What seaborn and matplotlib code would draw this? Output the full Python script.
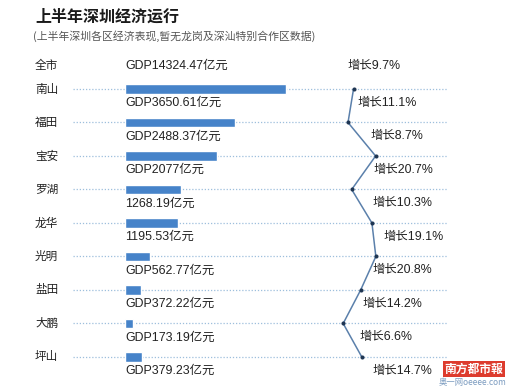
import numpy as np
import matplotlib
matplotlib.use("Agg")
import matplotlib.pyplot as plt
import matplotlib.transforms as mtransforms
import seaborn as sns

# 数据
districts = ['南山', '福田', '宝安', '罗湖', '龙华', '光明', '盐田', '大鹏', '坪山']
gdp = [3650.61, 2488.37, 2077, 1268.19, 1195.53, 562.77, 372.22, 173.19, 379.23]
gdp_labels = ['GDP3650.61亿元', 'GDP2488.37亿元', 'GDP2077亿元', '1268.19亿元', '1195.53亿元',
              'GDP562.77亿元', 'GDP372.22亿元', 'GDP173.19亿元', 'GDP379.23亿元']
growth = [11.1, 8.7, 20.7, 10.3, 19.1, 20.8, 14.2, 6.6, 14.7]
total_name = '全市'
total_gdp_label = 'GDP14324.47亿元'
total_growth = 9.7

title = '上半年深圳经济运行'
subtitle = '(上半年深圳各区经济表现,暂无龙岗及深汕特别合作区数据)'

sns.set_theme(style="white")
plt.rcParams['font.family'] = ['Liberation Sans', 'Noto Sans CJK SC', 'DejaVu Sans']
cjk = ['Noto Sans CJK SC', 'DejaVu Sans']

W, H = 511, 390
fig = plt.figure(figsize=(W / 100, H / 100), dpi=100)
fig.patch.set_facecolor('white')

# 坐标区：左 73px 到右 447px
ax = fig.add_axes([73 / W, 1 - 380 / H, (447 - 73) / W, (380 - 50) / H])
ax.set_facecolor('none')

txt_color = '#222222'
bar_color = '#4683c9'

rows = np.arange(len(districts))
for r in rows:
    ax.axhline(r, color='#9dbfdc', lw=0.9, ls=(0, (1, 1.5)), zorder=1)

sns.barplot(x=gdp, y=districts, orient='h', color=bar_color, width=0.27,
            saturation=1, ax=ax, zorder=3)

# 像素比例：0.0441 px / 亿元，起点 125px
ax.set_xlim((73 - 125) / 0.0441, (447 - 125) / 0.0441)
ax.set_ylim(8.687, -1.164)
ax.set_xlabel('')
ax.set_ylabel('')
ax.set_xticks([])
ax.set_yticks([])
for s in ax.spines.values():
    s.set_visible(False)

# 增长率折线
ax2 = ax.twiny()
sns.lineplot(x=growth, y=rows, sort=False, estimator=None, ax=ax2,
             color='#5b80ab', lw=1.1, marker='o', markersize=2.2,
             markerfacecolor='#1e3552', markeredgecolor='#1e3552', zorder=4)
ax2.set_xlim((73 - 328) / 2.3, (447 - 328) / 2.3)
ax2.set_ylim(8.687, -1.164)
ax2.set_xticks([])
ax2.set_yticks([])
ax2.set_xlabel('')
for s in ax2.spines.values():
    s.set_visible(False)

fs = 8.9
left_tr = mtransforms.blended_transform_factory(fig.transFigure, ax.transData)

for r, name in enumerate(districts):
    ax.text(35 / W, r, name, transform=left_tr, ha='left', va='center',
            fontsize=8.4, color=txt_color, family=cjk)
    ax.annotate(gdp_labels[r], (0, r), xytext=(0, -14), textcoords='offset pixels',
                ha='left', va='center', fontsize=fs, color=txt_color)

growth_dx = [4, 22, -2, 21, 12, -3, 2, 16, 11]
for r, g in enumerate(growth):
    ax2.annotate(f'增长{g}%', (g, r), xytext=(growth_dx[r], -14),
                 textcoords='offset pixels', ha='left', va='center',
                 fontsize=fs, color=txt_color)

# 全市一行
ax.text(35 / W, -0.69, total_name, transform=left_tr, ha='left', va='center',
        fontsize=8.4, color=txt_color, family=cjk)
ax.text(0, -0.69, total_gdp_label, ha='left', va='center', fontsize=fs, color=txt_color)
ax2.annotate(f'增长{total_growth}%', (total_growth, -0.69), xytext=(-3, 0),
             textcoords='offset pixels', ha='left', va='center',
             fontsize=fs, color=txt_color)

# 标题
fig.text(35 / W, 1 - 17 / H, title, ha='left', va='center', fontsize=11.5,
         fontweight='bold', color='#1a1a1a', family=cjk)
fig.text(33 / W, 1 - 36 / H, subtitle, ha='left', va='center', fontsize=7.8,
         color='#555555', family=cjk)

# 水印
fig.text(474 / W, 1 - 369 / H, '南方都市報', ha='center', va='center', fontsize=8.5,
         color='white', fontweight='bold',
         family=['Noto Sans CJK TC', 'DejaVu Sans'],
         bbox=dict(boxstyle='square,pad=0.15', fc='#dd3b2d', ec='none'))
fig.text(473 / W, 1 - 383 / H, '奥一网oeeee.com', ha='center', va='center',
         fontsize=6, color='#7c9cc0', family=cjk)

fig.savefig('out.png', dpi=100)
